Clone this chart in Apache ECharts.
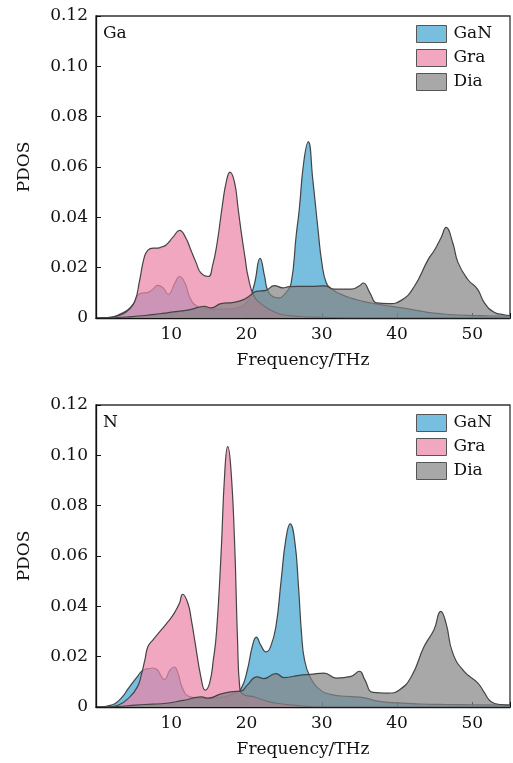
<!DOCTYPE html>
<html><head><meta charset="utf-8">
<script src="https://cdn.jsdelivr.net/npm/echarts@6/dist/echarts.min.js"></script>
<style>html,body{margin:0;padding:0;background:#fff}#c{width:513px;height:763px}</style>
</head><body><div id="c"></div>
<script>
const seriesNames = ['GaN', 'Gra', 'Dia'];
const panelLabels = ['Ga', 'N'];
const xTicks = [0, 10, 20, 30, 40, 50];
const yTicks = [0, 0.02, 0.04, 0.06, 0.08, 0.10, 0.12];

// Panel "Ga": [frequency THz, PDOS]
const ga_GaN = [[0.5,0],[1.5,0.0002],[2.5,0.0007],[3.5,0.002],[4.25,0.0033],[5.05,0.006],[5.8,0.0097],[6.9,0.0102],[7.6,0.0115],[8.2,0.013],[8.9,0.012],[9.6,0.0094],[10.5,0.014],[11.1,0.0165],[11.8,0.014],[12.6,0.0073],[13.5,0.0046],[14.8,0.0036],[16,0.0035],[17.5,0.0036],[19,0.0042],[20.2,0.007],[21,0.013],[21.8,0.0237],[22.4,0.0165],[22.8,0.011],[23.5,0.0085],[24.3,0.008],[25.2,0.01],[25.9,0.0135],[26.6,0.033],[27.0,0.043],[27.6,0.062],[28.2,0.070],[28.8,0.055],[29.5,0.035],[30.0,0.022],[30.6,0.0139],[31.3,0.0115],[32.5,0.0095],[34,0.0078],[35.5,0.0066],[37,0.0057],[39,0.0047],[40.9,0.0039],[43,0.0028],[44.9,0.0019],[47,0.0014],[50,0.001],[52,0.0009],[55,0.0008]];
const ga_Gra = [[1,0],[2.5,0.0005],[3.5,0.0015],[4.25,0.003],[5.14,0.0065],[5.8,0.015],[6.4,0.024],[6.9,0.027],[7.6,0.0278],[8.2,0.0278],[8.8,0.0283],[9.3,0.029],[10.2,0.032],[11.1,0.0348],[11.9,0.032],[12.6,0.027],[13.3,0.022],[13.9,0.018],[14.9,0.0165],[15.5,0.021],[16.1,0.030],[16.8,0.045],[17.3,0.054],[17.8,0.058],[18.4,0.054],[18.9,0.043],[19.3,0.034],[19.8,0.024],[20.2,0.0165],[21,0.0086],[22,0.0055],[23,0.0035],[24,0.002],[25,0.0012],[27,0.0006],[30,0.0003],[35,0],[55,0]];
const ga_Dia = [[2,0],[4,0.0004],[6.5,0.001],[8.5,0.0017],[10.9,0.0026],[12.5,0.0033],[14.4,0.0046],[15.3,0.004],[16.6,0.0057],[18.3,0.0062],[19.6,0.0073],[20.5,0.009],[21.3,0.0106],[22.6,0.011],[23.7,0.0129],[24.8,0.012],[25.7,0.0125],[26.9,0.0126],[28.5,0.0126],[30.4,0.0128],[31.7,0.0115],[33.9,0.0115],[35.0,0.0128],[35.5,0.0139],[36.4,0.0099],[37.3,0.006],[38.8,0.0057],[40.6,0.0071],[42.3,0.0126],[44.1,0.0231],[45.0,0.0271],[45.9,0.0323],[46.5,0.036],[47.4,0.0298],[48.1,0.022],[49.4,0.0153],[50.7,0.0114],[51.6,0.006],[52.9,0.0023],[54.2,0.0013],[55,0.001]];

// Panel "N"
const n_GaN = [[0.8,0],[1.5,0.0004],[2.5,0.0013],[3.5,0.004],[4.25,0.0072],[5.6,0.0125],[6.2,0.0145],[7.0,0.0153],[7.6,0.0155],[8.2,0.0146],[8.7,0.012],[9.1,0.0109],[9.8,0.0146],[10.4,0.0159],[10.9,0.0133],[11.5,0.0074],[12.4,0.0041],[14.0,0.0034],[15.5,0.0036],[17,0.004],[18.5,0.0055],[19.3,0.0074],[20.1,0.0146],[20.8,0.0245],[21.3,0.0278],[21.9,0.0245],[22.6,0.0219],[23.2,0.024],[23.9,0.0319],[24.6,0.0504],[25.2,0.0662],[25.8,0.0728],[26.4,0.066],[26.9,0.0479],[27.3,0.0294],[27.7,0.0187],[28.4,0.0122],[29.5,0.0075],[31.3,0.0049],[33.5,0.0042],[35.7,0.0036],[37.5,0.0023],[40.1,0.0016],[43,0.0012],[46.7,0.001],[50,0.0009],[55,0.0008]];
const n_Gra = [[1.5,0],[3,0.0008],[4.5,0.004],[5.5,0.008],[6.0,0.0125],[6.5,0.0188],[6.9,0.024],[7.6,0.0268],[8.7,0.0307],[9.6,0.034],[10.4,0.0373],[11.1,0.0413],[11.5,0.0448],[12.2,0.0413],[12.7,0.034],[13.1,0.0268],[14.0,0.0109],[14.5,0.0067],[15.1,0.0096],[15.6,0.019],[16.0,0.0294],[16.6,0.0599],[17.1,0.0929],[17.5,0.1035],[17.9,0.0955],[18.4,0.0664],[18.8,0.0268],[19.1,0.0076],[19.6,0.005],[21,0.004],[22.5,0.0025],[24,0.0015],[27,0.0005],[30,0],[55,0]];
const n_Dia = [[2,0],[4.3,0.0005],[6.5,0.001],[8.7,0.0013],[11.6,0.0026],[14.0,0.004],[14.9,0.0035],[16.5,0.0051],[17.9,0.006],[19.3,0.0064],[20.1,0.0087],[21.4,0.012],[22.3,0.0113],[23.9,0.0133],[25.0,0.0117],[27,0.0126],[28.5,0.013],[30.3,0.0135],[31.9,0.0115],[33.9,0.0122],[35.0,0.0142],[35.7,0.0109],[36.8,0.0058],[38.8,0.0055],[40.3,0.0068],[41.9,0.0121],[43.6,0.0241],[44.9,0.0307],[45.8,0.038],[46.5,0.0333],[47.4,0.0214],[48.9,0.0142],[50.7,0.0096],[51.6,0.0057],[52.5,0.0021],[53.8,0.001],[55,0.0008]];

const panelData = [[ga_GaN, ga_Gra, ga_Dia], [n_GaN, n_Gra, n_Dia]];
const fills = ['rgba(62,162,208,0.7)', 'rgba(237,133,167,0.72)', 'rgba(131,131,131,0.7)'];
const FONT = 'DejaVu Serif';
const txt = {fontFamily: FONT, fontSize: 17, color: '#111'};

const grids = [
  {left: 96, top: 16, width: 416, height: 302},
  {left: 96, top: 405, width: 416, height: 302}
];
const xAxes = [], yAxes = [], series = [], legends = [], titles = [];
grids.forEach((g, i) => {
  g.show = true; g.borderColor = '#333'; g.borderWidth = 1.3; g.backgroundColor = 'transparent';
  xAxes.push({
    type: 'value', gridIndex: i, min: xTicks[0], max: 55, interval: xTicks[1] - xTicks[0],
    name: 'Frequency/THz', nameLocation: 'middle', nameGap: 34, nameTextStyle: txt,
    axisLine: {lineStyle: {color: '#111', width: 1.3}},
    axisTick: {inside: true, length: 5, lineStyle: {color: '#111'}},
    axisLabel: Object.assign({margin: 8, formatter: v => (xTicks.indexOf(v) > 0 ? String(v) : '')}, txt),
    splitLine: {show: false}
  });
  yAxes.push({
    type: 'value', gridIndex: i, min: yTicks[0], max: yTicks[yTicks.length - 1], interval: yTicks[1] - yTicks[0],
    name: 'PDOS', nameLocation: 'middle', nameGap: 63, nameRotate: 90, nameTextStyle: txt,
    axisLine: {lineStyle: {color: '#111', width: 1.3}},
    axisTick: {inside: true, length: 5, lineStyle: {color: '#111'}},
    axisLabel: Object.assign({margin: 8, formatter: v => (Math.abs(v) < 1e-9 ? '0' : v.toFixed(2))}, txt),
    splitLine: {show: false}
  });
  seriesNames.forEach((name, k) => {
    series.push({
      name: name, type: 'line', xAxisIndex: i, yAxisIndex: i,
      data: panelData[i][k], smooth: 0.5, showSymbol: false, symbol: 'none',
      color: fills[k],
      lineStyle: {color: '#444', width: 1.2},
      areaStyle: {color: fills[k], opacity: 1},
      z: 2 + k
    });
  });
  legends.push({
    orient: 'vertical', left: 416, top: g.top + 9, padding: 0, itemWidth: 30, itemHeight: 17, itemGap: 6,
    icon: 'rect', data: seriesNames, textStyle: Object.assign({padding: [0, 0, 0, 2]}, txt),
    itemStyle: {borderColor: '#555', borderWidth: 1}
  });
  titles.push({text: panelLabels[i], left: 103, top: g.top + 9, padding: 0, textStyle: Object.assign({}, txt, {fontWeight: 'normal'})});
});

const chart = echarts.init(document.getElementById('c'), null, {renderer: 'canvas'});
chart.setOption({
  animation: false, backgroundColor: '#fff',
  title: titles, legend: legends, grid: grids, xAxis: xAxes, yAxis: yAxes, series: series
});
</script></body></html>
